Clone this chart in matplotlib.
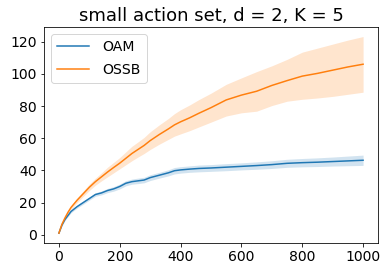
import numpy as np
import matplotlib
matplotlib.use("Agg")
import matplotlib.pyplot as plt

steps = [0, 10, 20, 30, 40, 60, 80, 100, 120, 140, 160, 180, 200, 220, 240, 260,
         280, 300, 330, 360, 380, 400, 430, 460, 500, 550, 600, 650, 700, 750,
         800, 850, 900, 950, 1000]

oam_mean = [1, 6, 9.5, 12, 14.5, 17.5, 20, 22.5, 25, 26, 27.5, 28.5, 30,
            32, 33, 33.5, 34, 35.5, 37, 38.5, 39.8, 40.3, 40.8, 41.2, 41.5,
            42, 42.5, 43, 43.6, 44.4, 44.8, 45.1, 45.5, 45.9, 46.3]
oam_err = [0.2, 0.5, 0.6, 0.7, 0.8, 0.9, 1.0, 1.0, 1.1, 1.2, 1.3, 1.4, 1.5,
           1.6, 1.6, 1.7, 1.7, 1.8, 1.8, 1.9, 2.0, 2.0, 2.0, 2.1, 2.1, 2.2,
           2.2, 2.3, 2.4, 2.5, 2.6, 2.7, 2.8, 3.0, 3.2]

ossb_mean = [1, 6.5, 10.5, 14, 17, 21.5, 25.5, 29.5, 33, 36, 39, 41.8, 44.5,
             47.5, 50.5, 53, 55.5, 58.5, 62.3, 65.8, 68.3, 70.2, 72.7, 75.5,
             79, 83.8, 86.8, 89.2, 92.8, 95.8, 98.6, 100.3, 102.3, 104.3, 106]
ossb_low = [0.8, 6, 9.7, 13, 15.8, 20, 23.8, 27.5, 30.8, 33.5, 36, 38.5, 41,
            43.5, 46, 48.3, 50.5, 53, 56.3, 59.3, 61.3, 62.7, 64.7, 67, 70,
            73.8, 75.8, 76.8, 80.3, 83, 84.2, 85, 86, 87.3, 88.6]
ossb_high = [1.2, 7, 11.3, 15, 18.2, 23, 27.2, 31.5, 35.2, 38.5, 42, 45, 48,
             51.5, 55, 57.7, 60.5, 64, 68.3, 72.3, 75.3, 77.7, 80.7, 84, 88,
             93.5, 97.5, 101.4, 105, 109, 113.5, 116, 118.5, 121, 123.2]

t = np.array(steps)

fig = plt.figure(figsize=(388 / 72, 273 / 72), dpi=72)
ax = fig.add_axes([43.7 / 388, 1 - 243.3 / 273, (378.3 - 43.7) / 388, (243.3 - 26.7) / 273])

m = np.array(oam_mean)
e = np.array(oam_err)
ax.plot(t, m, label="OAM")
ax.fill_between(t, m - e, m + e, color="C0", alpha=0.2, lw=0)

ax.plot(t, ossb_mean, label="OSSB")
ax.fill_between(t, ossb_low, ossb_high, color="C1", alpha=0.2, lw=0)

ax.set_title("small action set, d = 2, K = 5", fontsize=18)
ax.tick_params(labelsize=14)
ax.legend(fontsize=14, loc="upper left", handlelength=2.28, handletextpad=0.93,
          borderpad=0.46, labelspacing=0.6)

fig.savefig("out.png", dpi=72)
